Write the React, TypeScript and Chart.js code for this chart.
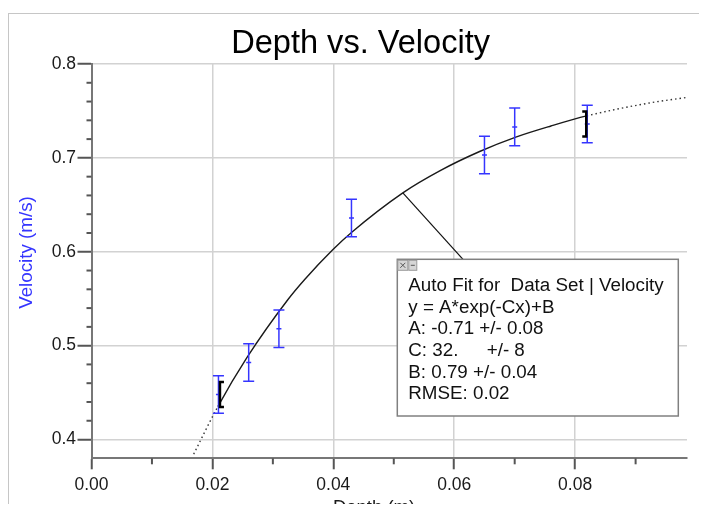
import React, { useEffect, useRef } from 'react';
import { Chart, registerables } from 'chart.js';

Chart.register(...registerables);

// ---- data ----
const depth = [0.021, 0.026, 0.031, 0.043, 0.065, 0.07, 0.082];
const velocity = [0.448, 0.482, 0.518, 0.636, 0.703, 0.733, 0.736];
const velocityError = [0.02, 0.02, 0.02, 0.02, 0.02, 0.02, 0.02];

const fitCurveX = [0.0169, 0.0209, 0.0257, 0.0325, 0.0353, 0.0399, 0.043, 0.0515, 0.0576, 0.0642, 0.0703, 0.076, 0.0819, 0.0923, 0.0984];
const fitCurveY = [0.3845, 0.4351, 0.4872, 0.5492, 0.5708, 0.6022, 0.6206, 0.6628, 0.6862, 0.7068, 0.7224, 0.7340, 0.7447, 0.7585, 0.7643];
const fitRange = [0.0209, 0.0819];
const calloutAnchor = [0.0515, 0.6628];

const xTicks = [0, 0.02, 0.04, 0.06, 0.08];
const xMinorTicks = [0.01, 0.03, 0.05, 0.07, 0.09];
const yTicks = [0.4, 0.5, 0.6, 0.7, 0.8];
const yMinorTicks = [0.42, 0.44, 0.46, 0.48, 0.52, 0.54, 0.56, 0.58, 0.62, 0.64, 0.66, 0.68, 0.72, 0.74, 0.76, 0.78];

const chartTitle = 'Depth vs. Velocity';
const xTitle = 'Depth (m)';
const yTitle = 'Velocity (m/s)';
const fitHeader = 'Auto Fit for  Data Set | Velocity';
const fitLines = ['y = A*exp(-Cx)+B', 'A: -0.71 +/- 0.08', 'C: 32.', 'B: 0.79 +/- 0.04', 'RMSE: 0.02'];
const fitCUncertainty = '+/- 8';

const FONT = '"Liberation Sans", Arial, sans-serif';
const BLUE = '#3535ff';

const decorPlugin = {
  id: 'decor',
  afterDraw(chart: any) {
    const { ctx, chartArea: a } = chart;
    const xs = chart.scales.x;
    const ys = chart.scales.y;
    ctx.save();

    // minor ticks
    ctx.strokeStyle = '#555';
    ctx.lineWidth = 2;
    xMinorTicks.forEach((v) => {
      const px = xs.getPixelForValue(v);
      ctx.beginPath();
      ctx.moveTo(px, a.bottom);
      ctx.lineTo(px, a.bottom + 6);
      ctx.stroke();
    });
    yMinorTicks.forEach((v) => {
      const py = ys.getPixelForValue(v);
      ctx.beginPath();
      ctx.moveTo(a.left - 5, py);
      ctx.lineTo(a.left, py);
      ctx.stroke();
    });

    // fit range brackets
    ctx.strokeStyle = '#000';
    ctx.lineWidth = 2.5;
    const drawBracket = (i: number, dir: number, off: number) => {
      const bx = xs.getPixelForValue(depth[i]) + off;
      const by = ys.getPixelForValue(velocity[i]);
      ctx.beginPath();
      ctx.moveTo(bx + dir * 4, by - 12.5);
      ctx.lineTo(bx, by - 12.5);
      ctx.lineTo(bx, by + 12.5);
      ctx.lineTo(bx + dir * 4, by + 12.5);
      ctx.stroke();
    };
    drawBracket(0, 1, 1.5);
    drawBracket(depth.length - 1, -1, -1);

    // callout box
    const bl = 388.3, bt = 245.3, bw = 281, bh = 156.7;
    const ax = xs.getPixelForValue(calloutAnchor[0]);
    const ay = ys.getPixelForValue(calloutAnchor[1]);
    ctx.strokeStyle = '#111';
    ctx.lineWidth = 1.2;
    ctx.beginPath();
    ctx.moveTo(ax, ay);
    ctx.lineTo(bl + 65.7, bt);
    ctx.stroke();

    ctx.fillStyle = '#fff';
    ctx.fillRect(bl, bt, bw, bh);
    ctx.strokeStyle = '#808080';
    ctx.lineWidth = 1.5;
    ctx.strokeRect(bl, bt, bw, bh);

    // small buttons
    ctx.fillStyle = '#d6d6d6';
    ctx.strokeStyle = '#9a9a9a';
    ctx.lineWidth = 1;
    ctx.fillRect(bl + 0.5, bt + 1, 10, 10);
    ctx.strokeRect(bl + 0.5, bt + 1, 10, 10);
    ctx.fillRect(bl + 11.5, bt + 1, 8, 10);
    ctx.strokeRect(bl + 11.5, bt + 1, 8, 10);
    ctx.strokeStyle = '#555';
    ctx.beginPath();
    ctx.moveTo(bl + 3, bt + 3.5); ctx.lineTo(bl + 8, bt + 8.5);
    ctx.moveTo(bl + 8, bt + 3.5); ctx.lineTo(bl + 3, bt + 8.5);
    ctx.moveTo(bl + 13.5, bt + 6); ctx.lineTo(bl + 17.5, bt + 6);
    ctx.stroke();

    ctx.fillStyle = '#111';
    ctx.font = `18.8px ${FONT}`;
    ctx.textAlign = 'left';
    ctx.textBaseline = 'alphabetic';
    const tx = 399.3;
    const lines = [fitHeader, ...fitLines];
    lines.forEach((t, i) => ctx.fillText(t, tx, 277 + i * 21.66));
    ctx.fillText(fitCUncertainty, 477.7, 277 + 3 * 21.66);

    // titles
    ctx.fillStyle = '#000';
    ctx.font = `32.6px ${FONT}`;
    ctx.textAlign = 'center';
    ctx.fillText(chartTitle, 351.6, 39.3);

    ctx.fillStyle = '#1a1a1a';
    ctx.font = `18.5px ${FONT}`;
    ctx.fillText(xTitle, 365, 499);

    ctx.save();
    ctx.translate(22.5, 238.5);
    ctx.rotate(-Math.PI / 2);
    ctx.fillStyle = BLUE;
    ctx.font = `18.8px ${FONT}`;
    ctx.fillText(yTitle, 0, 0);
    ctx.restore();

    ctx.restore();
  },
};

export default function App() {
  const ref = useRef<HTMLCanvasElement | null>(null);

  useEffect(() => {
    document.body.style.overflow = 'hidden';
    if (!ref.current) return;
    const errorBarData = depth.flatMap((x, i) => [
      { x, y: velocity[i] - velocityError[i] },
      { x, y: velocity[i] + velocityError[i] },
      { x, y: null as any },
    ]);
    const centerData = depth.map((x, i) => ({ x, y: velocity[i] }));
    const curveData = fitCurveX.map((x, i) => ({ x, y: fitCurveY[i] }));
    const outside = (c: any) => c.p1.parsed.x <= fitRange[0] || c.p0.parsed.x >= fitRange[1];

    const chart = new Chart(ref.current, {
      type: 'scatter',
      data: {
        datasets: [
          {
            data: errorBarData,
            showLine: true,
            spanGaps: false,
            borderColor: BLUE,
            borderWidth: 1.5,
            pointStyle: 'line',
            pointRadius: 5.5,
            pointBorderColor: BLUE,
            pointBorderWidth: 1.5,
            tension: 0,
          } as any,
          {
            data: centerData,
            pointStyle: 'line',
            pointRadius: 2.5,
            pointBorderColor: BLUE,
            pointBorderWidth: 1.5,
          } as any,
          {
            data: curveData,
            showLine: true,
            pointRadius: 0,
            borderColor: '#1a1a1a',
            borderWidth: 1.4,
            cubicInterpolationMode: 'monotone',
            segment: {
              borderDash: (c: any) => (outside(c) ? [1.5, 3] : undefined),
              borderColor: (c: any) => (outside(c) ? '#333' : undefined),
            },
          } as any,
        ],
      },
      options: {
        animation: false,
        responsive: false,
        events: [],
        layout: { padding: { top: 50, right: 20, left: 0, bottom: 0 } },
        plugins: {
          legend: { display: false },
          tooltip: { enabled: false },
          title: { display: false },
        },
        scales: {
          x: {
            type: 'linear',
            min: 0,
            max: 0.0985,
            afterBuildTicks: (s: any) => {
              s.ticks = xTicks.map((v) => ({ value: v }));
            },
            afterFit: (s: any) => {
              s.height = 53.7;
            },
            grid: {
              color: '#d2d2d2',
              lineWidth: 1.5,
              tickLength: 11,
              tickColor: '#555',
              tickWidth: 2,
            },
            border: { display: true, color: '#777', width: 2 },
            ticks: {
              padding: 5,
              color: '#1a1a1a',
              font: { family: FONT, size: 17.5 },
              maxRotation: 0,
              autoSkip: false,
              callback: (v: any) => Number(v).toFixed(2),
            },
          },
          y: {
            type: 'linear',
            min: 0.38,
            max: 0.8,
            afterBuildTicks: (s: any) => {
              s.ticks = yTicks.map((v) => ({ value: v }));
            },
            afterFit: (s: any) => {
              s.width = 82.5;
            },
            grid: {
              color: '#d2d2d2',
              lineWidth: 1.5,
              tickLength: 14,
              tickColor: '#555',
              tickWidth: 2,
            },
            border: { display: true, color: '#777', width: 2 },
            ticks: {
              padding: 1.5,
              color: '#1a1a1a',
              font: { family: FONT, size: 17.5 },
              autoSkip: false,
              callback: (v: any) => Number(v).toFixed(1),
            },
          },
        },
      },
      plugins: [decorPlugin],
    });
    return () => chart.destroy();
  }, []);

  return (
    <div style={{ paddingTop: 5, marginBottom: -8 }}>
      <div
        style={{
          borderTop: '1px solid #c6c6c6',
          borderLeft: '1px solid #c6c6c6',
          width: 698,
          height: 498,
          overflow: 'hidden',
        }}
      >
        <canvas ref={ref} width={698} height={498} style={{ display: 'block', width: 698, height: 498 }} />
      </div>
    </div>
  );
}
